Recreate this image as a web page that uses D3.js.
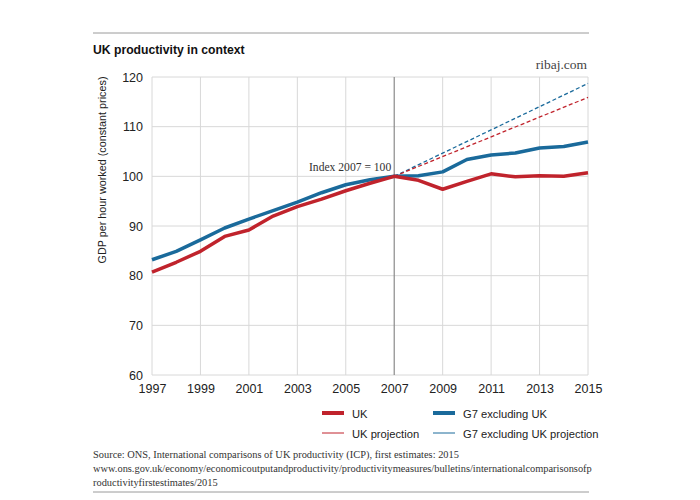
<!DOCTYPE html>
<html><head><meta charset="utf-8">
<script src="https://cdn.jsdelivr.net/npm/d3@7"></script>
<style>body{margin:0;background:#fff}svg{display:block}</style>
</head><body>
<script>
const years = [1997,1998,1999,2000,2001,2002,2003,2004,2005,2006,2007,2008,2009,2010,2011,2012,2013,2014,2015];
const ukValues = [80.7,82.7,84.9,87.9,89.2,92.0,93.9,95.4,97.1,98.6,100,99.2,97.4,99.0,100.5,99.9,100.1,100.0,100.7];
const g7Values = [83.2,84.9,87.2,89.6,91.4,93.1,94.8,96.7,98.3,99.3,100,100.1,100.9,103.4,104.3,104.7,105.7,106.0,106.9];
const projYears = [2007,2015];
const ukProjValues = [100,115.9];
const g7ProjValues = [100,118.7];
const xTicks = [1997,1999,2001,2003,2005,2007,2009,2011,2013,2015];
const yTicks = [60,70,80,90,100,110,120];

const RED = "#c0232c", BLUE = "#1a6a9b";
const W = 700, H = 500;
const svg = d3.select("body").append("svg").attr("width", W).attr("height", H);
const sans = "'Liberation Sans', Arial, sans-serif";
const serif = "'Liberation Serif', 'DejaVu Serif', serif";

const x = d3.scaleLinear().domain([1997,2015]).range([152,588]);
const y = d3.scaleLinear().domain([60,120]).range([375,77]);

// top and bottom rules
svg.append("line").attr("x1",93).attr("x2",589).attr("y1",33).attr("y2",33).attr("stroke","#9a9a9a").attr("stroke-width",1);
svg.append("line").attr("x1",93).attr("x2",589).attr("y1",492).attr("y2",492).attr("stroke","#9a9a9a").attr("stroke-width",1);

svg.append("text").attr("x",93).attr("y",54).attr("font-family","'Liberation Sans', sans-serif").attr("font-weight","bold").attr("font-size",12.2).attr("fill","#111").text("UK productivity in context");
svg.append("text").attr("x",587).attr("y",69).attr("text-anchor","end").attr("font-family",serif).attr("font-size",13.5).attr("fill","#444").text("ribaj.com");

// grid
const g = svg.append("g");
g.selectAll(".hg").data(yTicks).join("line")
  .attr("x1",x(1997)).attr("x2",x(2015)).attr("y1",d=>y(d)).attr("y2",d=>y(d))
  .attr("stroke","#d8d8d8").attr("stroke-width",1);
g.selectAll(".vg").data(xTicks).join("line")
  .attr("x1",d=>x(d)).attr("x2",d=>x(d)).attr("y1",y(120)).attr("y2",y(60))
  .attr("stroke",d=>d===2007?"#8a8a8a":"#d8d8d8").attr("stroke-width",d=>d===2007?1.2:1);

// axes labels via d3 axes
const yAxis = svg.append("g").attr("transform",`translate(${x(1997)-9},0)`)
  .call(d3.axisLeft(y).tickValues(yTicks).tickSize(0).tickPadding(0));
yAxis.select(".domain").remove();
yAxis.selectAll("text").attr("font-family",sans).attr("font-size",12.5).attr("fill","#222");

const xAxis = svg.append("g").attr("transform",`translate(0,${y(60)+5})`)
  .call(d3.axisBottom(x).tickValues(xTicks).tickFormat(d3.format("d")).tickSize(0).tickPadding(4));
xAxis.select(".domain").remove();
xAxis.selectAll("text").attr("font-family",sans).attr("font-size",12.5).attr("fill","#222");

svg.append("text").attr("transform",`translate(106,170) rotate(-90)`).attr("text-anchor","middle")
  .attr("font-family",sans).attr("font-size",10.8).attr("fill","#222").text("GDP per hour worked (constant prices)");

svg.append("text").attr("x",309).attr("y",171).attr("font-family",serif).attr("font-size",11.6).attr("fill","#333").text("Index 2007 = 100");

const line = d3.line().x(d=>x(d[0])).y(d=>y(d[1]));
svg.append("path").datum(d3.zip(projYears,g7ProjValues)).attr("d",line).attr("fill","none").attr("stroke",BLUE).attr("stroke-width",1.3).attr("stroke-dasharray","4,2.5");
svg.append("path").datum(d3.zip(projYears,ukProjValues)).attr("d",line).attr("fill","none").attr("stroke",RED).attr("stroke-width",1.3).attr("stroke-dasharray","4,2.5");
svg.append("path").datum(d3.zip(years,g7Values)).attr("d",line).attr("fill","none").attr("stroke",BLUE).attr("stroke-width",3.5).attr("stroke-linejoin","round");
svg.append("path").datum(d3.zip(years,ukValues)).attr("d",line).attr("fill","none").attr("stroke",RED).attr("stroke-width",3.5).attr("stroke-linejoin","round");

// legend
const legend = [
  {label:"UK", color:RED, w:4, lx:322, ly:413},
  {label:"G7 excluding UK", color:BLUE, w:4, lx:433, ly:413},
  {label:"UK projection", color:RED, w:1, lx:322, ly:433},
  {label:"G7 excluding UK projection", color:BLUE, w:1, lx:433, ly:433}
];
const lg = svg.selectAll(".lg").data(legend).join("g");
lg.append("line").attr("x1",d=>d.lx).attr("x2",d=>d.lx+22).attr("y1",d=>d.ly).attr("y2",d=>d.ly).attr("stroke",d=>d.color).attr("stroke-width",d=>d.w);
lg.append("text").attr("x",d=>d.lx+30).attr("y",d=>d.ly+4.5).attr("font-family",sans).attr("font-size",11.2).attr("fill","#222").text(d=>d.label);

// source
const src = ["Source: ONS, International comparisons of UK productivity (ICP), first estimates: 2015",
 "www.ons.gov.uk/economy/economicoutputandproductivity/productivitymeasures/bulletins/internationalcomparisonsofp",
 "roductivityfirstestimates/2015"];
svg.selectAll(".src").data(src).join("text").attr("x",93).attr("y",(d,i)=>458+i*14)
  .attr("font-family",serif).attr("font-size",10.4).attr("fill","#333").text(d=>d);
</script>
</body></html>
